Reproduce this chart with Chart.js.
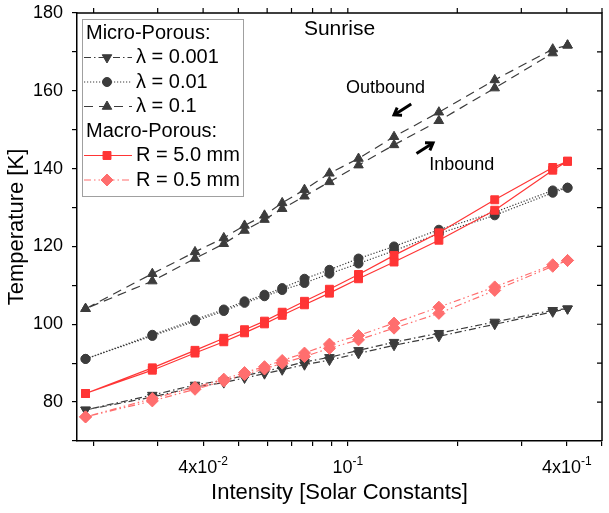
<!DOCTYPE html>
<html>
<head>
<meta charset="utf-8">
<script src="https://cdn.jsdelivr.net/npm/chart.js@4.4.1/dist/chart.umd.min.js"></script>
<style>
  html, body { margin: 0; padding: 0; background: #fff; }
</style>
</head>
<body>
<canvas id="chart" width="609" height="513"></canvas>
<script>
// intensity steps in outbound order (high -> low), inbound runs the other way
var intensity = [0.402, 0.366, 0.2535, 0.178, 0.134, 0.107, 0.089, 0.076, 0.066, 0.059, 0.052, 0.0456, 0.038, 0.029, 0.019];

// temperatures [K], same order as intensity
var lam001Out = [104.0, 103.6, 100.6, 97.7, 95.4, 93.3, 91.5, 90.3, 88.9, 87.9, 86.8, 85.6, 84.4, 81.8, 78.0];
var lam001In  = [104.0, 103.2, 100.0, 96.9, 94.6, 92.5, 90.8, 89.6, 88.3, 87.3, 86.2, 85.0, 83.9, 81.3, 78.0];
var lam01Out  = [135.1, 134.4, 128.8, 124.3, 120.0, 116.9, 114.0, 111.7, 109.3, 107.6, 105.9, 103.8, 101.2, 97.3, 91.1];
var lam01In   = [135.1, 133.8, 128.0, 123.3, 118.9, 115.6, 113.0, 110.6, 108.8, 107.2, 105.5, 103.4, 100.8, 97.0, 91.1];
var lam1Out   = [171.7, 170.7, 162.8, 154.5, 148.2, 142.6, 138.8, 134.6, 131.2, 128.0, 125.4, 122.2, 118.6, 113.0, 104.0];
var lam1In    = [171.7, 169.7, 160.7, 152.3, 146.1, 140.9, 136.6, 132.9, 129.7, 126.9, 124.1, 120.7, 116.9, 111.1, 104.0];
var r50Out    = [141.9, 140.3, 132.0, 123.5, 117.7, 112.8, 109.0, 105.9, 103.1, 100.8, 98.6, 96.4, 93.3, 88.8, 82.2];
var r50In     = [141.9, 139.6, 129.3, 121.6, 116.0, 111.7, 108.0, 105.0, 102.3, 100.1, 97.8, 95.5, 92.6, 88.2, 82.2];
var r05Out    = [116.4, 115.3, 109.6, 104.4, 100.3, 97.1, 94.9, 92.6, 90.7, 89.1, 87.6, 85.9, 83.8, 80.9, 76.2];
var r05In     = [116.4, 114.9, 108.7, 102.8, 99.0, 96.0, 93.8, 91.7, 90.0, 88.5, 87.1, 85.4, 83.3, 80.3, 76.2];

var seriesLabels = ['λ = 0.001', 'λ = 0.01', 'λ = 0.1', 'R = 5.0 mm', 'R = 0.5 mm'];
var groupLabels = ['Micro-Porous:', 'Macro-Porous:'];

// axis ticks
var xTickValues = [0.02, 0.03, 0.04, 0.05, 0.06, 0.07, 0.08, 0.09, 0.1, 0.2, 0.3, 0.4, 0.5];
var xTickLabels = [[0.04, '4x10', '-2'], [0.1, '10', '-1'], [0.4, '4x10', '-1']];
var yMin = 70, yMax = 180, yStep = 10;

var FONT = "Arial, 'Liberation Sans', sans-serif";
var DARK = '#3c3c3c';
var RED = '#ff3535';
var PINK = '#ff6e6e';

// outbound then back along inbound
function loop(outArr, inArr) {
	var pts = [];
	for (var i = 0; i < intensity.length; i++) pts.push({x: intensity[i], y: outArr[i]});
	for (var j = intensity.length - 1; j >= 0; j--) pts.push({x: intensity[j], y: inArr[j]});
	return pts;
}

function makeSet(label, data, color, style, rot, radius, dash, order) {
	return {
		label: label,
		data: data,
		borderColor: color,
		backgroundColor: color,
		borderWidth: 1.2,
		borderDash: dash,
		pointStyle: style,
		pointRotation: rot,
		pointRadius: radius,
		pointHoverRadius: radius,
		pointBorderWidth: 1,
		pointBackgroundColor: color,
		pointBorderColor: color,
		tension: 0,
		fill: false,
		order: order
	};
}

var datasets = [
	makeSet(seriesLabels[0], loop(lam001Out, lam001In), DARK, 'triangle', 180, 5.5, [7, 3, 1.5, 3], 4),
	makeSet(seriesLabels[1], loop(lam01Out, lam01In), DARK, 'circle', 0, 4.5, [1.2, 1.8], 3),
	makeSet(seriesLabels[2], loop(lam1Out, lam1In), DARK, 'triangle', 0, 5.5, [9, 6], 2),
	makeSet(seriesLabels[3], loop(r50Out, r50In), RED, 'rect', 0, 5.6, [], 1),
	makeSet(seriesLabels[4], loop(r05Out, r05In), PINK, 'rectRot', 0, 6, [7, 3, 1.5, 3, 1.5, 3], 0)
];

function marker(ctx, ds, x, y) {
	ctx.save();
	ctx.setLineDash([]);
	ctx.fillStyle = ds.backgroundColor;
	ctx.strokeStyle = ds.borderColor;
	ctx.lineWidth = 1;
	if (Chart.helpers && Chart.helpers.drawPoint) {
		Chart.helpers.drawPoint(ctx, {pointStyle: ds.pointStyle, radius: ds.pointRadius, rotation: ds.pointRotation, borderWidth: 1}, x, y);
	} else {
		ctx.beginPath();
		ctx.arc(x, y, ds.pointRadius, 0, Math.PI * 2);
		ctx.fill();
	}
	ctx.restore();
}

function arrow(ctx, x1, y1, x2, y2) {
	var a = Math.atan2(y2 - y1, x2 - x1);
	var h = 8;
	ctx.save();
	ctx.strokeStyle = '#000';
	ctx.lineWidth = 3;
	ctx.lineCap = 'butt';
	ctx.lineJoin = 'miter';
	ctx.beginPath();
	ctx.moveTo(x1, y1);
	ctx.lineTo(x2, y2);
	ctx.stroke();
	ctx.beginPath();
	ctx.moveTo(x2 - h * Math.cos(a - 0.6), y2 - h * Math.sin(a - 0.6));
	ctx.lineTo(x2, y2);
	ctx.lineTo(x2 - h * Math.cos(a + 0.6), y2 - h * Math.sin(a + 0.6));
	ctx.stroke();
	ctx.restore();
}

var decor = {
	id: 'decor',
	afterDraw: function(chart) {
		var ctx = chart.ctx;
		var area = chart.chartArea;
		var xs = chart.scales.x, ys = chart.scales.y;

		// top and right frame with ticks
		ctx.save();
		ctx.strokeStyle = '#000';
		ctx.lineWidth = 1.5;
		ctx.beginPath();
		ctx.moveTo(area.left, area.top);
		ctx.lineTo(area.right, area.top);
		ctx.lineTo(area.right, area.bottom);
		ctx.stroke();
		ctx.lineWidth = 1.2;
		ctx.beginPath();
		xTickValues.forEach(function(v) {
			var px = xs.getPixelForValue(v);
			ctx.moveTo(px, area.top);
			ctx.lineTo(px, area.top - 5);
		});
		for (var t = yMin + yStep; t < yMax; t += yStep) {
			var py = ys.getPixelForValue(t);
			ctx.moveTo(area.right, py);
			ctx.lineTo(area.right - 5, py);
		}
		ctx.stroke();

		// x tick labels with superscript exponent
		ctx.fillStyle = '#000';
		ctx.textBaseline = 'alphabetic';
		ctx.textAlign = 'left';
		xTickLabels.forEach(function(l) {
			var px = xs.getPixelForValue(l[0]);
			ctx.font = '18px ' + FONT;
			var w1 = ctx.measureText(l[1]).width;
			ctx.font = '12px ' + FONT;
			var w2 = ctx.measureText(l[2]).width;
			var x0 = px - (w1 + w2) / 2;
			ctx.font = '18px ' + FONT;
			ctx.fillText(l[1], x0, area.bottom + 32);
			ctx.font = '12px ' + FONT;
			ctx.fillText(l[2], x0 + w1, area.bottom + 24);
		});

		// annotations
		ctx.textAlign = 'center';
		ctx.textBaseline = 'middle';
		ctx.font = '21px ' + FONT;
		ctx.fillText('Sunrise', (area.left + area.right) / 2, area.top + 16);
		ctx.font = '18px ' + FONT;
		ctx.fillText('Outbound', xs.getPixelForValue(0.127), ys.getPixelForValue(160.8));
		ctx.fillText('Inbound', xs.getPixelForValue(0.2058), ys.getPixelForValue(140.9));
		arrow(ctx, xs.getPixelForValue(0.1494), ys.getPixelForValue(156.6), xs.getPixelForValue(0.134), ys.getPixelForValue(153.8));
		arrow(ctx, xs.getPixelForValue(0.1545), ys.getPixelForValue(143.9), xs.getPixelForValue(0.1715), ys.getPixelForValue(146.6));

		// legend box
		var lx = area.left + 5, ly = area.top + 6, lw = 161, lh = 177;
		ctx.fillStyle = '#fff';
		ctx.fillRect(lx, ly, lw, lh);
		ctx.strokeStyle = '#a0a0a0';
		ctx.lineWidth = 1;
		ctx.strokeRect(lx + 0.5, ly + 0.5, lw, lh);

		var rows = [
			{head: groupLabels[0]}, {ds: 0}, {ds: 1}, {ds: 2},
			{head: groupLabels[1]}, {ds: 3}, {ds: 4}
		];
		ctx.textAlign = 'left';
		ctx.textBaseline = 'middle';
		ctx.font = '20px ' + FONT;
		rows.forEach(function(r, i) {
			var y = ly + 14 + i * 24.5;
			ctx.fillStyle = '#000';
			if (r.head) {
				ctx.fillText(r.head, lx + 4, y);
				return;
			}
			var ds = chart.data.datasets[r.ds];
			ctx.save();
			ctx.strokeStyle = ds.borderColor;
			ctx.lineWidth = 1.2;
			ctx.setLineDash(ds.borderDash);
			ctx.beginPath();
			ctx.moveTo(lx + 2, y);
			ctx.lineTo(lx + 50, y);
			ctx.stroke();
			ctx.restore();
			marker(ctx, ds, lx + 25, y);
			ctx.fillStyle = '#000';
			ctx.fillText(ds.label, lx + 54, y);
		});
		ctx.restore();
	}
};

new Chart(document.getElementById('chart'), {
	type: 'line',
	data: { datasets: datasets },
	plugins: [decor],
	options: {
		responsive: false,
		animation: false,
		events: [],
		layout: { padding: { top: 13, right: 2, left: 0, bottom: 0 } },
		plugins: {
			legend: { display: false },
			tooltip: { enabled: false }
		},
		scales: {
			x: {
				type: 'logarithmic',
				min: 0.018,
				max: 0.5,
				bounds: 'data',
				afterBuildTicks: function(scale) {
					scale.ticks = xTickValues.map(function(v) { return {value: v}; });
				},
				afterFit: function(scale) {
					scale.height = 72;
					scale.paddingLeft = 0;
					scale.paddingRight = 0;
				},
				ticks: {
					autoSkip: false,
					maxRotation: 0,
					callback: function() { return ''; }
				},
				grid: { drawOnChartArea: false, drawTicks: true, tickLength: 5, color: '#000', lineWidth: 1.2 },
				border: { display: true, color: '#000', width: 1.5 },
				title: {
					display: true,
					text: 'Intensity [Solar Constants]',
					color: '#000',
					font: { family: FONT, size: 22 },
					padding: { top: 4, bottom: 7 }
				}
			},
			y: {
				type: 'linear',
				min: yMin,
				max: yMax,
				afterFit: function(scale) {
					scale.width = 77;
					scale.paddingTop = 0;
					scale.paddingBottom = 0;
				},
				ticks: {
					stepSize: yStep,
					padding: 9,
					color: '#000',
					font: { family: FONT, size: 18 },
					callback: function(v) { return v % 20 === 0 ? v : ''; }
				},
				grid: { drawOnChartArea: false, drawTicks: true, tickLength: 5, color: '#000', lineWidth: 1.2 },
				border: { display: true, color: '#000', width: 1.5 },
				title: {
					display: true,
					text: 'Temperature [K]',
					color: '#000',
					font: { family: FONT, size: 22 },
					padding: { top: 4, bottom: 4 }
				}
			}
		}
	}
});
</script>
</body>
</html>
